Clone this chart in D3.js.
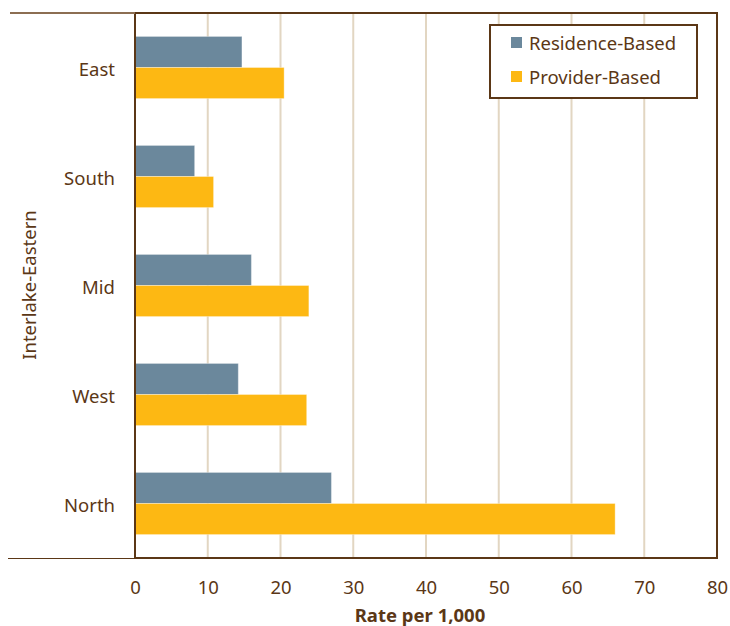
<!DOCTYPE html>
<html>
<head>
<meta charset="utf-8">
<script src="https://cdn.jsdelivr.net/npm/d3@7"></script>
<style>
  html, body { margin: 0; padding: 0; background: #fff; }
  svg { display: block; font-family: "Noto Sans", "Open Sans", sans-serif; }
</style>
</head>
<body>
<svg id="chart" width="730" height="626"></svg>
<script>
// Areas within the Interlake-Eastern region
const categories = ["East", "South", "Mid", "West", "North"];
const seriesNames = ["Residence-Based", "Provider-Based"];
const residenceBased = [14.7, 8.2, 16.0, 14.2, 27.0];
const providerBased = [20.5, 10.8, 23.9, 23.6, 66.0];
const xTicks = [0, 10, 20, 30, 40, 50, 60, 70, 80];

const colors = { "Residence-Based": "#6b889c", "Provider-Based": "#fdb813" };
const ink = "#5b3716";

const svg = d3.select("#chart");
const plot = { left: 135, right: 717, top: 13, bottom: 558 };

const x = d3.scaleLinear().domain([0, 80]).range([plot.left, plot.right]);
const y = d3.scaleBand().domain(categories).range([plot.top, plot.bottom]).paddingInner(0.43).paddingOuter(0.215);
const sub = d3.scaleBand().domain(seriesNames).range([0, y.bandwidth()]);

const rows = categories.map((c, i) => ({ cat: c, values: { "Residence-Based": residenceBased[i], "Provider-Based": providerBased[i] } }));

// vertical gridlines
svg.append("g").selectAll("line").data(xTicks.slice(1, -1)).join("line")
  .attr("x1", d => x(d)).attr("x2", d => x(d))
  .attr("y1", plot.top).attr("y2", plot.bottom)
  .attr("stroke", "#e2d6c2").attr("stroke-width", 2);

// bars
const groups = svg.append("g").selectAll("g").data(rows).join("g")
  .attr("transform", d => `translate(0,${y(d.cat)})`);
groups.selectAll("rect").data(d => seriesNames.map(s => ({ s, v: d.values[s] }))).join("rect")
  .attr("x", x(0))
  .attr("y", d => sub(d.s))
  .attr("width", d => x(d.v) - x(0))
  .attr("height", sub.bandwidth())
  .attr("fill", d => colors[d.s])
  .attr("stroke", "rgba(255,255,255,0.35)")
  .attr("stroke-width", 1);

// frame
svg.append("rect")
  .attr("x", plot.left).attr("y", plot.top)
  .attr("width", plot.right - plot.left).attr("height", plot.bottom - plot.top)
  .attr("fill", "none").attr("stroke", ink).attr("stroke-width", 2);

// lines extending left of the frame
svg.append("line").attr("x1", 10).attr("x2", plot.left).attr("y1", plot.top).attr("y2", plot.top)
  .attr("stroke", "#8c6e52").attr("stroke-width", 2);
svg.append("line").attr("x1", 8).attr("x2", plot.left).attr("y1", plot.bottom + 0.5).attr("y2", plot.bottom + 0.5)
  .attr("stroke", ink).attr("stroke-width", 1.2);

// x axis
const xAxis = svg.append("g").attr("transform", `translate(0,${plot.bottom})`)
  .call(d3.axisBottom(x).tickValues(xTicks).tickSize(0).tickPadding(23));
xAxis.select(".domain").remove();
xAxis.selectAll("text").attr("fill", ink).attr("font-size", 18.5).attr("font-family", "Noto Sans, sans-serif");

// y axis
const yAxis = svg.append("g").attr("transform", `translate(${plot.left},0)`)
  .call(d3.axisLeft(y).tickSize(0).tickPadding(20));
yAxis.select(".domain").remove();
yAxis.selectAll("text").attr("fill", ink).attr("font-size", 18.5).attr("dy", "0.45em")
  .attr("font-family", "Noto Sans, sans-serif");

// axis titles
svg.append("text").attr("x", 420).attr("y", 622).attr("text-anchor", "middle")
  .attr("fill", ink).attr("font-size", 18.5).attr("font-weight", "bold").text("Rate per 1,000");
svg.append("text").attr("transform", "translate(36,285) rotate(-90)").attr("text-anchor", "middle")
  .attr("fill", ink).attr("font-size", 18.5).text("Interlake-Eastern");

// legend
const lg = svg.append("g").attr("transform", "translate(490,25)");
lg.append("rect").attr("width", 207).attr("height", 73)
  .attr("fill", "#fff").attr("stroke", ink).attr("stroke-width", 2);
seriesNames.forEach((s, i) => {
  const row = lg.append("g").attr("transform", `translate(21,${19 + i * 34})`);
  row.append("rect").attr("x", 0).attr("y", -7).attr("width", 11).attr("height", 11).attr("fill", colors[s]);
  row.append("text").attr("x", 18).attr("y", 5.5).attr("fill", ink).attr("font-size", 18.5).text(s);
});
</script>
</body>
</html>
